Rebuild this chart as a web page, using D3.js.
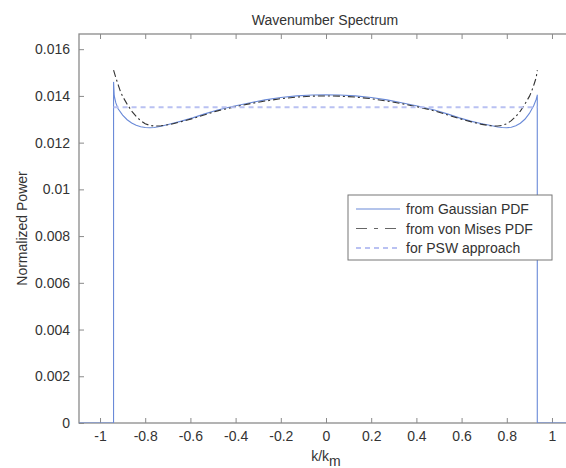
<!DOCTYPE html>
<html>
<head>
<meta charset="utf-8">
<script src="https://cdn.jsdelivr.net/npm/d3@7"></script>
<style>
    body { margin: 0; background: #fff; }
    text { font-family: "Liberation Sans", Arial, sans-serif; fill: #333; }
</style>
</head>
<body>
<svg id="chart"></svg>
<script>
/*
    Wavenumber Spectrum
 */

const config = {
    width: 566,
    height: 468,
    left: 79,
    right: 573,
    top: 34,
    bottom: 423,
    fontSize: 14
};

// x tick values and labels
const xTicks = [-1, -0.8, -0.6, -0.4, -0.2, 0, 0.2, 0.4, 0.6, 0.8, 1];
const xTickLabels = ["-1", "-0.8", "-0.6", "-0.4", "-0.2", "0", "0.2", "0.4", "0.6", "0.8", "1"];
const yTicks = [0, 0.002, 0.004, 0.006, 0.008, 0.01, 0.012, 0.014, 0.016];
const yTickLabels = ["0", "0.002", "0.004", "0.006", "0.008", "0.01", "0.012", "0.014", "0.016"];

// from Gaussian PDF
const gaussK = [-1.093, -0.9401, -0.94, -0.937, -0.93, -0.92, -0.90, -0.88, -0.86, -0.84, -0.82, -0.80, -0.78, -0.76, -0.73, -0.69, -0.64, -0.59, -0.54, -0.48, -0.41, -0.34, -0.27, -0.20, -0.13, -0.06, 0,
    0.06, 0.13, 0.20, 0.27, 0.34, 0.41, 0.48, 0.54, 0.59, 0.64, 0.69, 0.73, 0.76, 0.78, 0.80, 0.82, 0.84, 0.86, 0.88, 0.90, 0.92, 0.93, 0.935, 0.9349, 0.935, 1.093];
const gaussP = [0, 0, 0.0146, 0.0140, 0.01370, 0.01345, 0.01318, 0.01298, 0.01284, 0.01274, 0.01268, 0.01265, 0.01264, 0.01265, 0.01270, 0.01280, 0.01292, 0.01306, 0.01322, 0.01340, 0.01356, 0.01370, 0.01383, 0.01393, 0.01400, 0.01404, 0.01405,
    0.01404, 0.01400, 0.01393, 0.01383, 0.01370, 0.01356, 0.01340, 0.01322, 0.01306, 0.01292, 0.01281, 0.01273, 0.01267, 0.01265, 0.01264, 0.01266, 0.01272, 0.01283, 0.01300, 0.01325, 0.01360, 0.01385, 0.01403, 0.01403, 0, 0];

// from von Mises PDF
const misesK = [-0.94, -0.93, -0.92, -0.91, -0.90, -0.88, -0.86, -0.84, -0.82, -0.80, -0.78, -0.76, -0.73, -0.69, -0.64, -0.59, -0.54, -0.48, -0.41, -0.34, -0.27, -0.20, -0.13, -0.06, 0,
    0.06, 0.13, 0.20, 0.27, 0.34, 0.41, 0.48, 0.54, 0.59, 0.64, 0.69, 0.73, 0.76, 0.78, 0.80, 0.82, 0.84, 0.86, 0.88, 0.90, 0.91, 0.92, 0.93, 0.935];
const misesP = [0.0151, 0.01478, 0.01448, 0.01420, 0.01398, 0.01365, 0.01335, 0.01312, 0.01294, 0.01281, 0.01274, 0.01271, 0.01272, 0.01278, 0.01290, 0.01303, 0.01318, 0.01336, 0.01352, 0.01366, 0.01378, 0.01388, 0.01395, 0.01399, 0.01400,
    0.01399, 0.01395, 0.01388, 0.01378, 0.01366, 0.01352, 0.01336, 0.01318, 0.01303, 0.01290, 0.01278, 0.01272, 0.01271, 0.01274, 0.01281, 0.01294, 0.01312, 0.01335, 0.01365, 0.01398, 0.01420, 0.01448, 0.01478, 0.0151];

// for PSW approach
const pswK = [-0.94, 0.935];
const pswP = [0.01352, 0.01352];

const legendLabels = ["from Gaussian PDF", "from von Mises PDF", "for PSW approach"];

const series = [
    { k: gaussK, p: gaussP, color: "#6a8ad8", width: 1.1, dash: null },
    { k: misesK, p: misesP, color: "#333", width: 1.1, dash: "7,3,2,3" },
    { k: pswK, p: pswP, color: "#b9c1f2", width: 2, dash: "5,4" }
];

const x = d3.scaleLinear().domain([-1.093, 1.093]).range([config.left, config.right]);
const y = d3.scaleLinear().domain([0, 0.01665]).range([config.bottom, config.top]);

const svg = d3.select("#chart")
    .attr("width", config.width)
    .attr("height", config.height);

// frame
svg.append("rect")
    .attr("x", config.left)
    .attr("y", config.top)
    .attr("width", config.right - config.left)
    .attr("height", config.bottom - config.top)
    .attr("fill", "none")
    .attr("stroke", "#8a8a8a")
    .attr("stroke-width", 1.3);

const xAxis = d3.axisBottom(x).tickValues(xTicks).tickSize(-5).tickPadding(8)
    .tickFormat((d, i) => xTickLabels[i]);
const xAxisTop = d3.axisTop(x).tickValues(xTicks).tickSize(-5).tickFormat("");
const yAxis = d3.axisLeft(y).tickValues(yTicks).tickSize(-5).tickPadding(9)
    .tickFormat((d, i) => yTickLabels[i]);
const yAxisRight = d3.axisRight(y).tickValues(yTicks).tickSize(-5).tickFormat("");

function styleAxis (g) {
    g.select(".domain").remove();
    g.selectAll(".tick line").attr("stroke", "#8a8a8a");
    g.selectAll(".tick text")
        .style("font-family", "'Liberation Sans', Arial, sans-serif")
        .style("font-size", config.fontSize + "px")
        .attr("fill", "#333");
}

svg.append("g").attr("transform", `translate(0, ${config.bottom})`).call(xAxis).call(styleAxis);
svg.append("g").attr("transform", `translate(0, ${config.top})`).call(xAxisTop).call(styleAxis);
svg.append("g").attr("transform", `translate(${config.left}, 0)`).call(yAxis).call(styleAxis);
svg.append("g").attr("transform", `translate(${config.right}, 0)`).call(yAxisRight).call(styleAxis);

const line = d3.line()
    .x(d => x(d[0]))
    .y(d => y(d[1]));

svg.append("defs").append("clipPath").attr("id", "plot-clip")
    .append("rect")
    .attr("x", config.left).attr("y", config.top)
    .attr("width", config.right - config.left).attr("height", config.bottom - config.top);

const plot = svg.append("g").attr("clip-path", "url(#plot-clip)");

series.forEach(s => {
    plot.append("path")
        .datum(d3.zip(s.k, s.p))
        .attr("d", line)
        .attr("fill", "none")
        .attr("stroke", s.color)
        .attr("stroke-width", s.width)
        .attr("stroke-dasharray", s.dash);
});

// legend
const legend = svg.append("g").attr("transform", "translate(348, 195)");

legend.append("rect")
    .attr("width", 204)
    .attr("height", 65)
    .attr("fill", "#fff")
    .attr("stroke", "#777")
    .attr("stroke-width", 1);

legendLabels.forEach((label, i) => {
    const row = legend.append("g").attr("transform", `translate(0, ${14 + i * 19.5})`);
    row.append("line")
        .attr("x1", 8).attr("x2", 52)
        .attr("stroke", i === 1 ? "#666" : series[i].color)
        .attr("stroke-width", series[i].width)
        .attr("stroke-dasharray", i === 1 ? "11,7,4,7" : series[i].dash);
    row.append("text")
        .attr("x", 58)
        .attr("y", 5)
        .style("font-size", config.fontSize + "px")
        .text(label);
});

// title and labels
svg.append("text")
    .attr("x", 325)
    .attr("y", 25)
    .attr("text-anchor", "middle")
    .style("font-size", config.fontSize + "px")
    .text("Wavenumber Spectrum");

svg.append("text")
    .attr("transform", `translate(27, ${(config.top + config.bottom) / 2}) rotate(-90)`)
    .attr("text-anchor", "middle")
    .style("font-size", config.fontSize + "px")
    .text("Normalized Power");

const xlabel = svg.append("text")
    .attr("x", 326)
    .attr("y", 461)
    .attr("text-anchor", "middle")
    .style("font-size", config.fontSize + "px");
xlabel.append("tspan").text("k/k");
xlabel.append("tspan").attr("dy", 5).text("m");
</script>
</body>
</html>
